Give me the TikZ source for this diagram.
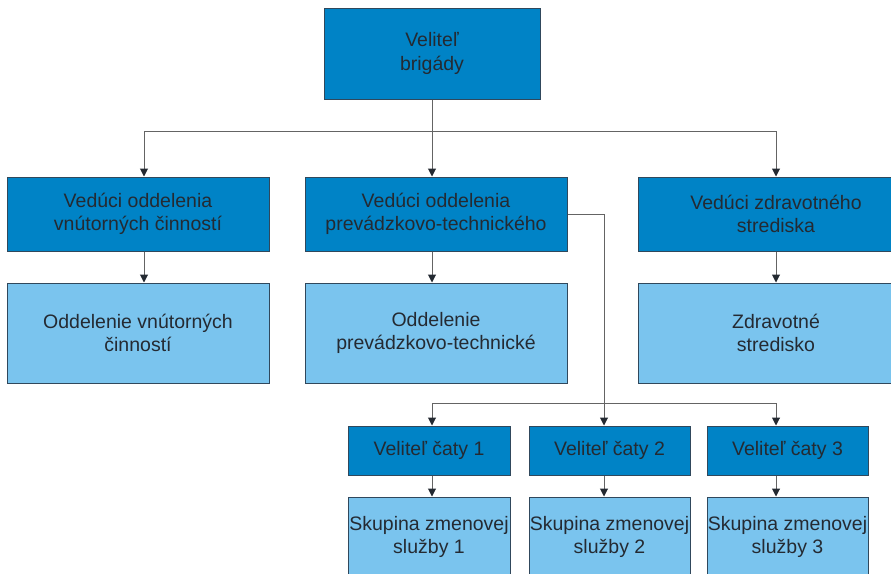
\documentclass[tikz,border=0pt]{standalone}
\usepackage{fontspec}
\setmainfont{Liberation Sans}
\usetikzlibrary{arrows.meta}
\definecolor{headblue}{RGB}{0,131,198}
\definecolor{unitblue}{RGB}{122,196,238}
\definecolor{boxedge}{RGB}{48,72,92}
\definecolor{inkgray}{RGB}{36,42,50}
\definecolor{wiregray}{RGB}{100,100,100}
\begin{document}
\begin{tikzpicture}[x=1pt,y=-1pt,
  box/.style={draw=boxedge, line width=1pt, text=inkgray, align=center,
    inner sep=0pt, font=\fontsize{19.5}{23.5}\selectfont},
  head/.style={box, fill=headblue},
  unit/.style={box, fill=unitblue},
  wire/.style={draw=wiregray, line width=1pt},
  feed/.style={wire, -{Triangle[length=8pt,width=8pt,color=inkgray]}},
]
\path[use as bounding box] (0,0) rectangle (891,573);
\clip (0,0) rectangle (891,573);

% commander
\node[head, minimum width=216pt, minimum height=91pt] (top) at (432,53.5) {Veliteľ\\brigády};

% department heads
\node[head, minimum width=262pt, minimum height=74pt] (hl) at (138,214) {Vedúci oddelenia\\vnútorných činností};
\node[head, minimum width=262pt, minimum height=74pt] (hm) at (436,214) {Vedúci oddelenia\\prevádzkovo-technického};
\node[head, minimum width=276pt, minimum height=74pt] (hr) at (776,214) {Vedúci zdravotného\\strediska};

% departments
\node[unit, minimum width=262pt, minimum height=100pt] (ul) at (138,333) {Oddelenie vnútorných\\činností};
\node[unit, minimum width=262pt, minimum height=100pt] (um) at (436,333) {Oddelenie\\prevádzkovo-technické};
\node[unit, minimum width=276pt, minimum height=100pt] (ur) at (776,333) {Zdravotné\\stredisko};

% platoon commanders
\node[head, minimum width=162pt, minimum height=49pt] (c1) at (429,450.5) {Veliteľ čaty 1};
\node[head, minimum width=161pt, minimum height=49pt] (c2) at (609.5,450.5) {Veliteľ čaty 2};
\node[head, minimum width=161pt, minimum height=49pt] (c3) at (787.5,450.5) {Veliteľ čaty 3};

% shift groups
\node[unit, minimum width=162pt, minimum height=80pt] (s1) at (429,537) {Skupina zmenovej\\služby 1};
\node[unit, minimum width=161pt, minimum height=80pt] (s2) at (609.5,537) {Skupina zmenovej\\služby 2};
\node[unit, minimum width=161pt, minimum height=80pt] (s3) at (787.5,537) {Skupina zmenovej\\služby 3};

% upper bus
\coordinate (ba) at (144,131);
\coordinate (bb) at (432,131);
\coordinate (bc) at (776,131);
\draw[wire] (top.south) -- (bb);
\draw[wire] (ba) -- (bc);
\draw[feed] (ba) -- (ba |- hl.north);
\draw[feed] (bb) -- (bb |- hm.north);
\draw[feed] (bc) -- (bc |- hr.north);

% heads to departments
\draw[feed] (ba |- hl.south) -- (ba |- ul.north);
\draw[feed] (bb |- hm.south) -- (bb |- um.north);
\draw[feed] (bc |- hr.south) -- (bc |- ur.north);

% lower bus from the technical department head
\coordinate (tk) at (604,214);
\coordinate (pa) at (432,403);
\coordinate (pb) at (604,403);
\coordinate (pc) at (776,403);
\draw[wire] (hm.east) -- (tk) -- (pb);
\draw[wire] (pa) -- (pc);
\draw[feed] (pa) -- (pa |- c1.north);
\draw[feed] (pb) -- (pb |- c2.north);
\draw[feed] (pc) -- (pc |- c3.north);

% platoon commanders to shift groups
\draw[feed] (pa |- c1.south) -- (pa |- s1.north);
\draw[feed] (pb |- c2.south) -- (pb |- s2.north);
\draw[feed] (pc |- c3.south) -- (pc |- s3.north);
\end{tikzpicture}
\end{document}
